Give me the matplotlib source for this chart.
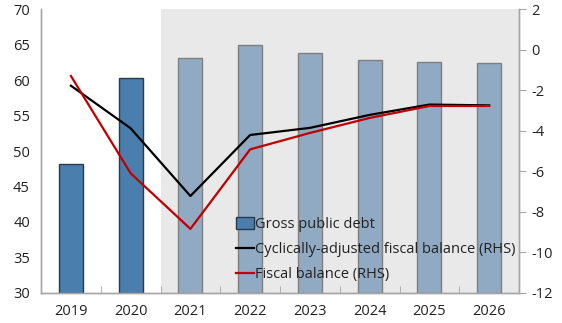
import matplotlib
matplotlib.use("Agg")
import matplotlib.pyplot as plt
from matplotlib.patches import Patch
from matplotlib.lines import Line2D

years = ["2019", "2020", "2021", "2022", "2023", "2024", "2025", "2026"]
gross_debt = [48.2, 60.3, 63.1, 65.0, 63.8, 62.8, 62.5, 62.4]
cyc_adj_balance = [-1.78, -3.88, -7.22, -4.21, -3.86, -3.22, -2.71, -2.75]
fiscal_balance = [-1.30, -6.10, -8.84, -4.92, -4.11, -3.37, -2.78, -2.78]
n_actual = 2

plt.rcParams['font.family'] = ['Open Sans', 'DejaVu Sans']
plt.rcParams['font.size'] = 10.5
plt.rcParams['axes.unicode_minus'] = False

fig = plt.figure(figsize=(5.62, 3.23), dpi=100)
ax = fig.add_axes([0.073, 0.093, 0.8505, 0.879])
ax2 = ax.twinx()

spine_c = "#A6A6A6"
ax.axvspan(n_actual - 0.5, len(years) - 0.5, color="#E9E9E9", zorder=0, lw=0)

x = list(range(len(years)))
dark_c, dark_e = "#4A7EAC", "#2A3A4C"
light_c, light_e = "#90AAC3", "#7F7F7F"
for i, v in enumerate(gross_debt):
    if i < n_actual:
        ax.bar(i, v - 30, bottom=30, width=0.4, color=dark_c, edgecolor=dark_e, linewidth=1.0, zorder=2)
    else:
        ax.bar(i, v - 30, bottom=30, width=0.4, color=light_c, edgecolor=light_e, linewidth=1.0, zorder=2)

ax2.plot(x, cyc_adj_balance, color="black", lw=1.6, zorder=3)
ax2.plot(x, fiscal_balance, color="#C00000", lw=1.6, zorder=3)

ax.set_xlim(-0.5, len(years) - 0.5)
ax.set_ylim(30, 70)
ax.set_yticks(range(30, 71, 5))
ax2.set_ylim(-12, 2)
ax2.set_yticks(range(-12, 3, 2))

ax.set_xticks(x)
ax.set_xticklabels(years)
ax.set_xticks([i + 0.5 for i in range(len(years) - 1)], minor=True)
ax.tick_params(axis='x', which='major', length=0, pad=8, colors="#222222")
ax.tick_params(axis='x', which='minor', direction='in', length=5, color=spine_c)
ax.tick_params(axis='y', length=0, pad=8, colors="#222222")
ax2.tick_params(axis='y', direction='out', length=5, color=spine_c, pad=4, labelcolor="#222222")

for a in (ax, ax2):
    a.spines['top'].set_visible(False)
    for s in ('left', 'right', 'bottom'):
        a.spines[s].set_color(spine_c)
        a.spines[s].set_linewidth(1.0)
ax.patch.set_visible(False)
ax.set_zorder(ax2.get_zorder() - 1)
ax2.patch.set_visible(False)
fig.patch.set_facecolor("white")

handles = [
    Patch(facecolor=dark_c, edgecolor=dark_e, linewidth=1.0),
    Line2D([0], [0], color="black", lw=1.6),
    Line2D([0], [0], color="#C00000", lw=1.6),
]
labels = ["Gross public debt", "Cyclically-adjusted fiscal balance (RHS)", "Fiscal balance (RHS)"]
leg = ax2.legend(handles, labels, loc='upper left', bbox_to_anchor=(236/562, 1 - 217/323),
                 bbox_transform=fig.transFigure, frameon=False, handlelength=1.2,
                 handleheight=0.8, handletextpad=0.1, labelspacing=0.68, borderpad=0, borderaxespad=0)
for t in leg.get_texts():
    t.set_color("#222222")

fig.savefig("out.png", dpi=100)
